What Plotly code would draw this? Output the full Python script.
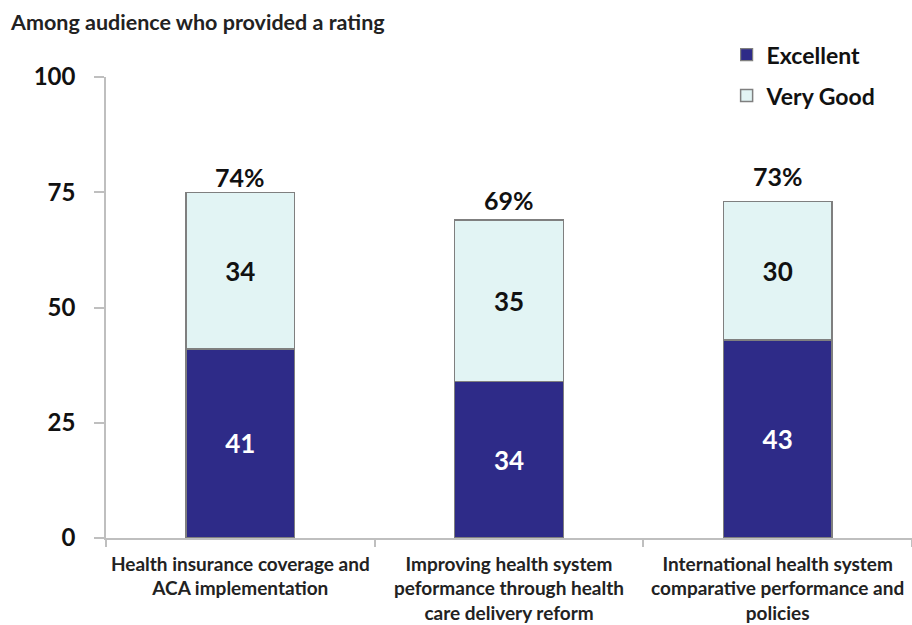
import plotly.graph_objects as go

# Ratings by session topic (percent of audience who provided a rating)
topics = [
    "Health insurance coverage and<br>ACA implementation",
    "Improving health system<br>peformance through health<br>care delivery reform",
    "International health system<br>comparative performance and<br>policies",
]
excellent = [41, 34, 43]
very_good = [34, 35, 30]
total_labels = ["74%", "69%", "73%"]

# extra lift (px) for each total label above its stack
total_lift = [-2, 3, 8]

FONT = "Lato"
NAVY = "#2E2B88"
PALE = "#E2F4F4"
EDGE = "#7F7F7F"

fig = go.Figure()
fig.add_trace(go.Bar(
    name="Excellent", x=topics, y=excellent,
    marker=dict(color=NAVY, line=dict(color=EDGE, width=1.2)),
    text=[str(v) for v in excellent], textposition="inside",
    insidetextanchor="middle",
    textfont=dict(family=FONT, size=26, color="white", weight="bold"),
    legendgroup="a", width=0.405,
))
fig.add_trace(go.Bar(
    name="Very Good", x=topics, y=very_good,
    marker=dict(color=PALE, line=dict(color=EDGE, width=1.5)),
    text=[str(v) for v in very_good], textposition="inside",
    insidetextanchor="middle",
    textfont=dict(family=FONT, size=26, color="#111111", weight="bold"),
    legendgroup="b", width=0.405,
))

# total labels above each stack
for t, e, v, lab, lift in zip(topics, excellent, very_good, total_labels, total_lift):
    fig.add_annotation(
        x=t, y=e + v, text=lab, showarrow=False, yanchor="bottom",
        yshift=lift, font=dict(family=FONT, size=25, color="#111111", weight="bold"),
    )

fig.add_annotation(
    xref="paper", yref="paper", x=-0.121, y=1.12, xanchor="left", yanchor="middle",
    text="Among audience who provided a rating", showarrow=False,
    font=dict(family=FONT, size=21.5, color="#222222", weight="bold"),
)

fig.update_layout(
    barmode="stack",
    width=912, height=625,
    margin=dict(l=106, r=0, t=77, b=87),
    paper_bgcolor="white", plot_bgcolor="white",
    bargap=0.595,
    legend=dict(
        x=0.77, y=1.095, xanchor="left", yanchor="top",
        traceorder="grouped", tracegroupgap=8,
        font=dict(family=FONT, size=23, color="#111111", weight="bold"),
        bgcolor="rgba(0,0,0,0)",
    ),
    font=dict(family=FONT),
)
fig.update_yaxes(
    range=[0, 100], tickvals=[0, 25, 50, 75, 100],
    showgrid=False, showline=True, linecolor="#BFBFBF", linewidth=1.5,
    ticks="outside", ticklen=10, tickcolor="#BFBFBF", tickwidth=1.5,
    ticklabelstandoff=14,
    tickfont=dict(family=FONT, size=24, color="#111111", weight="bold"),
    zeroline=False,
)
fig.update_xaxes(
    showgrid=False, showline=True, linecolor="#BFBFBF", linewidth=1.5,
    ticks="outside", tickson="boundaries", ticklen=7, tickcolor="#BFBFBF",
    tickwidth=1.5, ticklabelstandoff=8,
    tickfont=dict(family=FONT, size=19, color="#222222", weight="bold"),
)

fig.write_html("out.html")
